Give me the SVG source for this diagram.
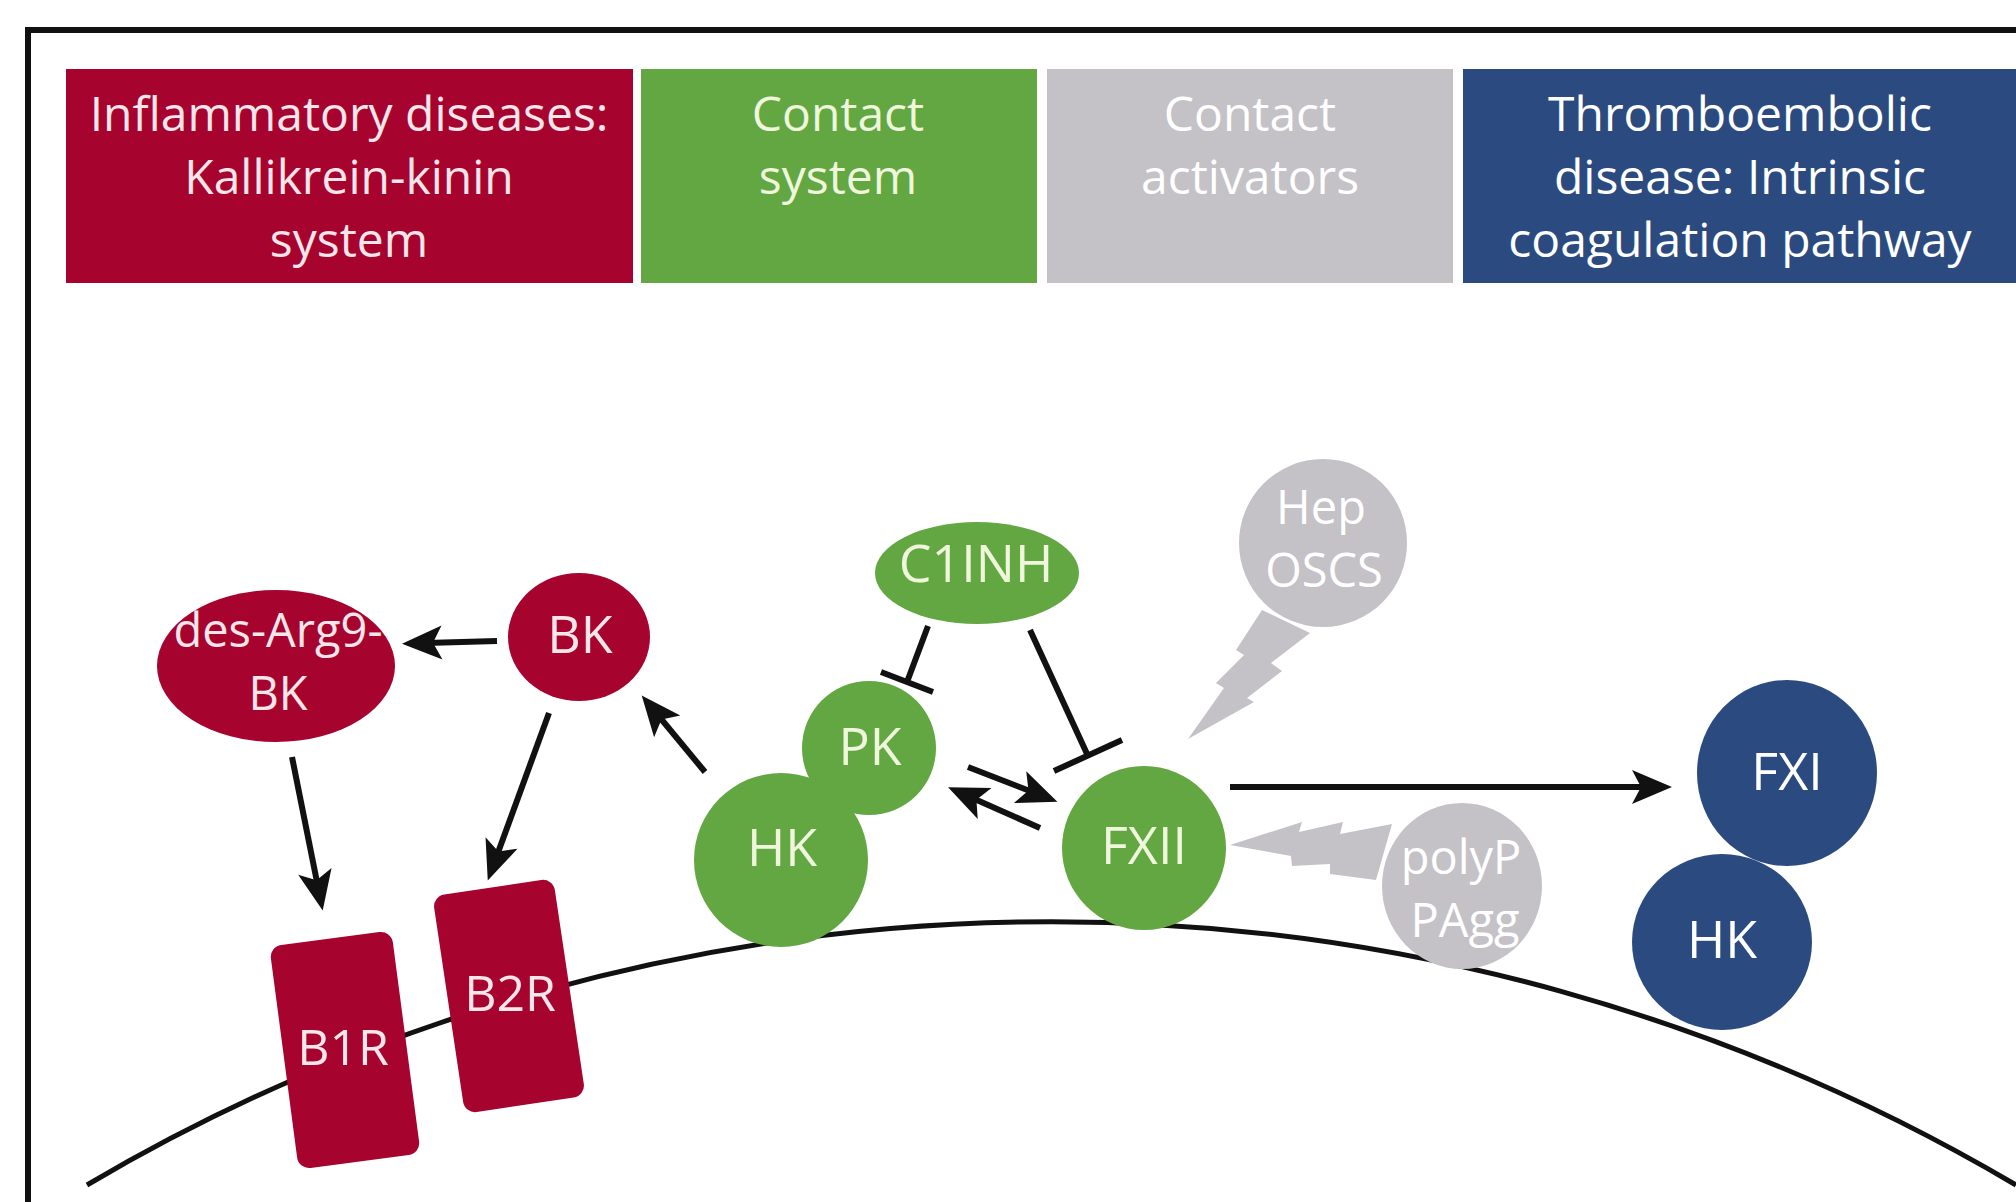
<svg xmlns="http://www.w3.org/2000/svg" width="2016" height="1202" viewBox="0 0 2016 1202">
<style>
.hdr{font-family:"Open Sans","Liberation Sans",sans-serif;font-size:48px;text-anchor:middle}
.lbl{font-family:"Open Sans","Liberation Sans",sans-serif;font-size:52px;text-anchor:middle}
.two{font-size:47px}
.red{fill:#A6032F}
.grn{fill:#62A742}
.gry{fill:#C4C2C7}
.blu{fill:#2B4B80}
.tr{fill:#F8E6EA}
.tg{fill:#EFF6DC}
.tw{fill:#FFFFFF}
.conn{stroke:#111;stroke-width:6;fill:none}
</style>
<defs>
<marker id="arr" markerUnits="userSpaceOnUse" viewBox="-44 -22 48 44" refX="-24" refY="0" markerWidth="48" markerHeight="44" orient="auto">
<path d="M0,0 L-40,-17 L-31,0 L-40,17 Z" fill="#111"/>
</marker>
</defs>
<rect x="0" y="0" width="2016" height="1202" fill="#fff"/>
<rect x="28" y="30" width="2100" height="1300" fill="none" stroke="#111" stroke-width="6"/>

<g id="header-inflammatory">
<rect class="red" x="66" y="69" width="567" height="214"/>
<text class="hdr tr" x="349" y="131">Inflammatory diseases:</text>
<text class="hdr tr" x="349" y="194">Kallikrein-kinin</text>
<text class="hdr tr" x="349" y="257">system</text>
</g>
<g id="header-contact-system">
<rect class="grn" x="641" y="69" width="396" height="214"/>
<text class="hdr tg" x="838" y="131">Contact</text>
<text class="hdr tg" x="838" y="194">system</text>
</g>
<g id="header-contact-activators">
<rect class="gry" x="1047" y="69" width="406" height="214"/>
<text class="hdr tw" x="1250" y="131">Contact</text>
<text class="hdr tw" x="1250" y="194">activators</text>
</g>
<g id="header-thromboembolic">
<rect class="blu" x="1463" y="69" width="560" height="214"/>
<text class="hdr tw" x="1740" y="131">Thromboembolic</text>
<text class="hdr tw" x="1740" y="194">disease: Intrinsic</text>
<text class="hdr tw" x="1740" y="257">coagulation pathway</text>
</g>

<g id="membrane">
<path d="M87 1185 A1898 1898 0 0 1 2016 1185" fill="none" stroke="#111" stroke-width="5"/>
</g>

<g id="connectors">
<line class="conn" x1="497" y1="641" x2="426" y2="643" marker-end="url(#arr)"/>
<line class="conn" x1="292" y1="757" x2="318" y2="887" marker-end="url(#arr)"/>
<line class="conn" x1="549" y1="713" x2="496" y2="858" marker-end="url(#arr)"/>
<line class="conn" x1="705" y1="772" x2="657" y2="714" marker-end="url(#arr)"/>
<line class="conn" x1="968" y1="767" x2="1035" y2="793" marker-end="url(#arr)"/>
<line class="conn" x1="1040" y1="828" x2="970" y2="797" marker-end="url(#arr)"/>
<line class="conn" x1="1230" y1="787" x2="1648" y2="787" marker-end="url(#arr)"/>
<line class="conn" x1="928" y1="626" x2="907" y2="682"/>
<line class="conn" x1="881" y1="672" x2="933" y2="692"/>
<line class="conn" x1="1030" y1="630" x2="1088" y2="756"/>
<line class="conn" x1="1054" y1="771" x2="1122" y2="740"/>
</g>

<g id="node-desArg9BK">
<ellipse class="red" cx="276" cy="666" rx="119" ry="76"/>
<text class="lbl two tr" x="278" y="647">des-Arg9-</text>
<text class="lbl two tr" x="278" y="710">BK</text>
</g>
<g id="node-BK">
<ellipse class="red" cx="579" cy="637" rx="71" ry="64"/>
<text class="lbl tr" x="580" y="653">BK</text>
</g>
<g id="node-B1R">
<rect class="red" x="283.5" y="937.5" width="123" height="225" rx="12" transform="rotate(-7.5 345 1050)"/>
<text class="lbl tr" x="343" y="1065" style="font-size:50px">B1R</text>
</g>
<g id="node-B2R">
<rect class="red" x="448" y="886" width="122" height="220" rx="12" transform="rotate(-8.5 509 996)"/>
<text class="lbl tr" x="510" y="1011" style="font-size:50px">B2R</text>
</g>
<g id="node-C1INH">
<ellipse class="grn" cx="977" cy="573" rx="102" ry="51"/>
<text class="lbl tg" x="976" y="582">C1INH</text>
</g>
<g id="node-PK">
<circle class="grn" cx="869" cy="748" r="67"/>
<text class="lbl tg" x="870" y="765">PK</text>
</g>
<g id="node-HK-green">
<circle class="grn" cx="781" cy="860" r="87"/>
<text class="lbl tg" x="782" y="866">HK</text>
</g>
<g id="node-FXII">
<circle class="grn" cx="1144" cy="848" r="82"/>
<text class="lbl tg" x="1144" y="864">FXII</text>
</g>
<g id="node-HepOSCS">
<circle class="gry" cx="1323" cy="543" r="84"/>
<polygon class="gry" points="1262,610 1310,633 1271,663 1282,671 1247,698 1254,702 1188,739 1224,688 1216,683 1244,655 1236,650"/>
<text class="lbl two tw" x="1321" y="524">Hep</text>
<text class="lbl two tw" x="1324" y="587">OSCS</text>
</g>
<g id="node-polyPPAgg">
<ellipse class="gry" cx="1462" cy="886" rx="80" ry="83"/>
<polygon class="gry" points="1230,845 1302,822 1299,832 1343,822 1340,834 1392,824 1376,880 1330,874 1330,864 1292,866 1291,856"/>
<text class="lbl two tw" x="1461" y="874">polyP</text>
<text class="lbl two tw" x="1465" y="937">PAgg</text>
</g>
<g id="node-FXI">
<ellipse class="blu" cx="1787" cy="773" rx="90" ry="93"/>
<text class="lbl tw" x="1787" y="790">FXI</text>
</g>
<g id="node-HK-blue">
<ellipse class="blu" cx="1722" cy="942" rx="90" ry="88"/>
<text class="lbl tw" x="1722" y="958">HK</text>
</g>
</svg>
